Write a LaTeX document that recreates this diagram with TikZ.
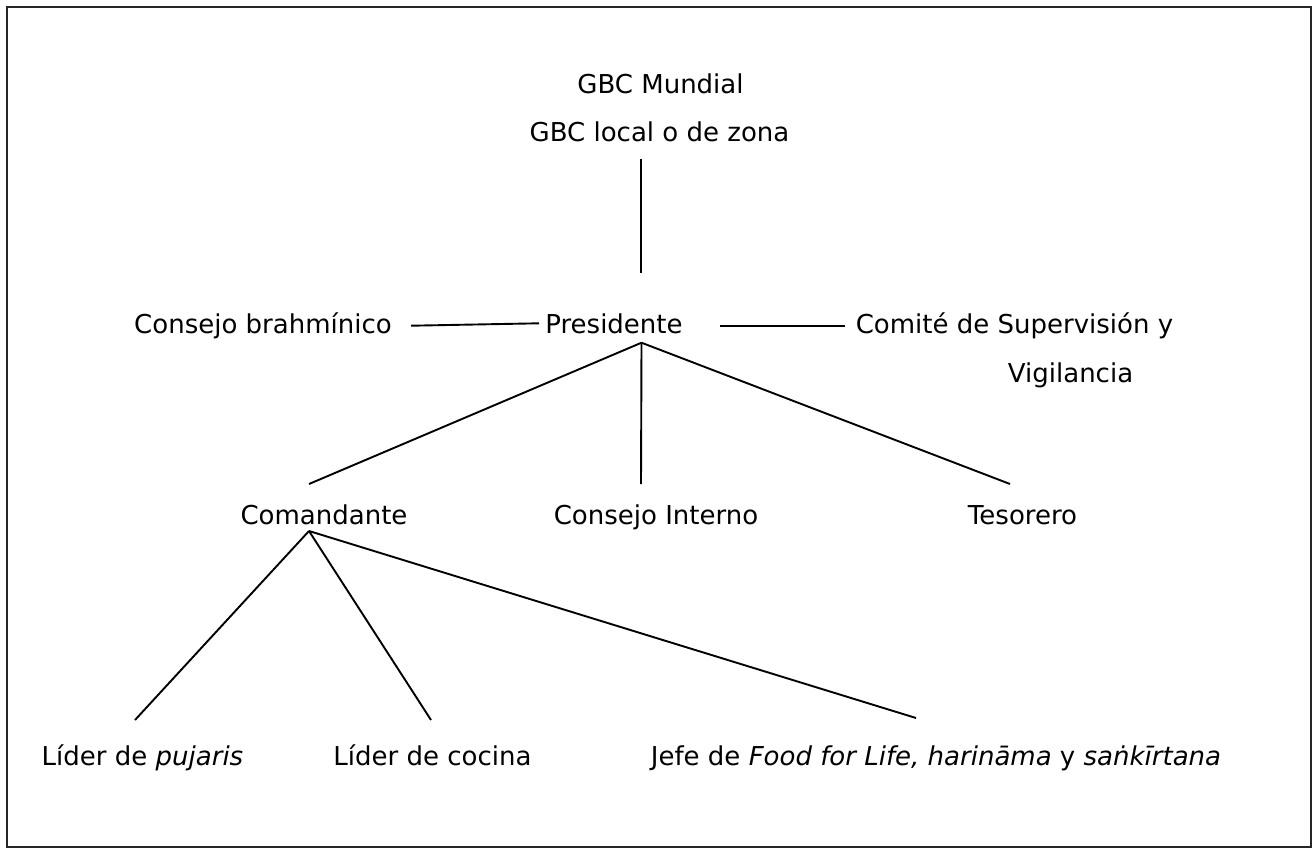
\documentclass[tikz,border=0pt]{standalone}
\usepackage{fontspec}
\setmainfont{DejaVu Sans}
\usepackage{tikz}
\usetikzlibrary{positioning,calc}

\tikzset{
    label/.style={anchor=base, inner sep=0pt, font=\fontsize{26}{31}\selectfont},
    link/.style={line width=1.9pt, black}
}

\begin{document}
\begin{tikzpicture}[x=1pt, y=-1pt]
    \useasboundingbox (0,0) rectangle (1314,849);

    % Frame
    \draw[line width=2.5pt, black!85] (7,7) rectangle (1311,847);

    % Top
    \node[label] (gbcworld) at (660.5,93) {GBC Mundial};
    \node[label] (gbclocal) at (659.5,141) {GBC local o de zona};

    % Second level
    \node[label] (pres) at (614,333) {Presidente};
    \node[label] (brahma) at (263,333) {Consejo brahmínico};
    \node[label] (comite) at (1014.5,333) {Comité de Supervisión y};
    \node[label] (vigil) at (1070.5,382) {Vigilancia};

    % Third level
    \node[label] (coman) at (324,524) {Comandante};
    \node[label] (interno) at (656,524) {Consejo Interno};
    \node[label] (tesor) at (1022.5,524) {Tesorero};

    % Bottom
    \node[label] (pujaris) at (142.5,765) {Líder de \textit{pujaris}};
    \node[label] (cocina) at (432.5,765) {Líder de cocina};
    \node[label] (jefe) at (936,765) {Jefe de \textit{Food for Life, harināma} y \textit{saṅkīrtana}};

    % Junction points
    \coordinate (gbc-j) at (641,159);
    \coordinate (pres-top) at (641,273);
    \coordinate (brahma-e) at (411,325.7);
    \coordinate (pres-w) at (539,323.3);
    \coordinate (pres-e) at (720,325.7);
    \coordinate (comite-w) at (845,325.7);
    \coordinate (pres-j) at (641.5,342.7);
    \coordinate (coman-top) at (309,484);
    \coordinate (interno-top) at (641,484);
    \coordinate (tesor-top) at (1010,484);
    \coordinate (coman-j) at (309,531);
    \coordinate (pujaris-top) at (135,720);
    \coordinate (cocina-top) at (431,720);
    \coordinate (jefe-top) at (916,718);

    % Connectors
    \draw[link] (gbc-j) -- (pres-top);
    \draw[link] (brahma-e) -- (pres-w);
    \draw[link] (pres-e) -- (comite-w);
    \foreach \t in {coman-top, interno-top, tesor-top}
        \draw[link] (pres-j) -- (\t);
    \foreach \t in {pujaris-top, cocina-top, jefe-top}
        \draw[link] (coman-j) -- (\t);

\end{tikzpicture}
\end{document}
